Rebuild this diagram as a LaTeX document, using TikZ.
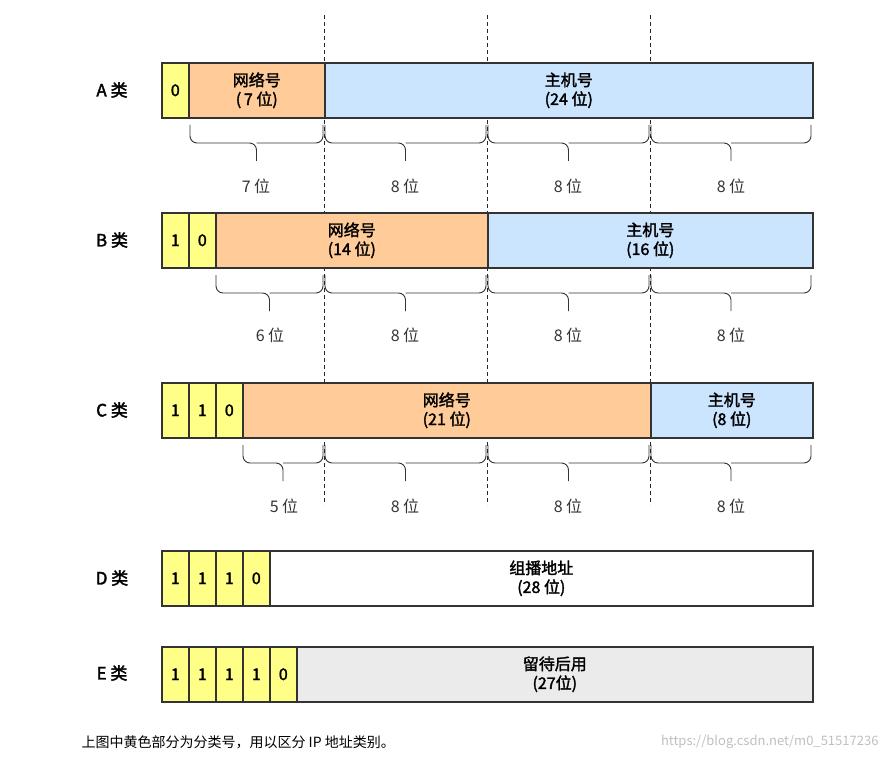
\documentclass[tikz,border=0pt]{standalone}
\usepackage{fontspec}
\setmainfont{Noto Sans CJK SC}[AutoFakeBold=2]
\begin{document}
\begin{tikzpicture}[x=1pt,y=-1pt,
  cell/.style={draw=black!80,line width=1.6pt,inner sep=0pt,anchor=north west,font=\bfseries\fontsize{16}{19}\selectfont,align=center},
  lab/.style={font=\bfseries\fontsize{17}{19}\selectfont},
  num/.style={font=\fontsize{16}{18}\selectfont,text=black!80},
  brc/.style={black!80,line width=0.9pt,rounded corners=7pt},
  dsh/.style={black!85,dash pattern=on 4pt off 3pt,line width=1pt}]
\useasboundingbox (0,0) rectangle (888,762);
\definecolor{org}{HTML}{FFCC99}\definecolor{blu}{HTML}{CCE5FF}\definecolor{ylw}{HTML}{FFFF88}\definecolor{gry}{HTML}{EBEBEB}
\tikzset{ylw/.style={cell,fill=ylw},org/.style={cell,fill=org},blu/.style={cell,fill=blu}}
\newcommand\mycell[6]{\node[#1,minimum width=#4-#3,minimum height=55] (#2) at (#3,#5) {#6};}
\newcommand\mybrace[3]{\draw[brc] (#1,#3) -- (#1,#3+18) -- ({(#1+#2)/2},#3+18) -- ({(#1+#2)/2},#3+36);
  \draw[brc] ({(#1+#2)/2},#3+18) -- (#2,#3+18) -- (#2,#3);}
% dashed lines
\draw[dsh] (324,15) coordinate (d1) -- (324,505) coordinate (d1b);
\draw[dsh] (487,15) coordinate (d2) -- (487,505) coordinate (d2b);
\draw[dsh] (650,15) coordinate (d3) -- (650,505) coordinate (d3b);
% A
\node[lab] (la) at (112,90) {A 类};
\mycell{ylw}{a0}{161}{188}{62}{0}
\mycell{org}{an}{188}{324}{62}{网络号\\(\,7 位)}
\mycell{blu}{ah}{324}{812}{62}{主机号\\(24 位)}
\mybrace{190}{323}{125}\mybrace{325}{486}{125}\mybrace{488}{649}{125}\mybrace{651}{811}{125}
\node[num] (a1) at (256,186) {7 位};\node[num] (a2) at (405,186) {8 位};
\node[num] (a3) at (568,186) {8 位};\node[num] (a4) at (731,186) {8 位};
% B
\node[lab] (lb) at (112,240) {B 类};
\mycell{ylw}{b0}{161}{188}{212}{1}\mycell{ylw}{b1}{188}{215}{212}{0}
\mycell{org}{bn}{215}{487}{212}{网络号\\(14 位)}
\mycell{blu}{bh}{487}{812}{212}{主机号\\(16 位)}
\mybrace{216}{323}{275}\mybrace{325}{486}{275}\mybrace{488}{649}{275}\mybrace{651}{811}{275}
\node[num] (b1l) at (270,335) {6 位};\node[num] (b2l) at (405,335) {8 位};
\node[num] (b3l) at (568,335) {8 位};\node[num] (b4l) at (731,335) {8 位};
% C
\node[lab] (lc) at (112,410) {C 类};
\mycell{ylw}{c0}{161}{188}{382}{1}\mycell{ylw}{c1}{188}{215}{382}{1}\mycell{ylw}{c2}{215}{242}{382}{0}
\mycell{org}{cn}{242}{650}{382}{网络号\\(21 位)}
\mycell{blu}{ch}{650}{812}{382}{主机号\\(8 位)}
\mybrace{243}{323}{445}\mybrace{325}{486}{445}\mybrace{488}{649}{445}\mybrace{651}{811}{445}
\node[num] (c1l) at (284,506) {5 位};\node[num] (c2l) at (405,506) {8 位};
\node[num] (c3l) at (568,506) {8 位};\node[num] (c4l) at (731,506) {8 位};
% D
\node[lab] (ld) at (112,578) {D 类};
\mycell{ylw}{d0}{161}{188}{550}{1}\mycell{ylw}{d1c}{188}{215}{550}{1}\mycell{ylw}{d2c}{215}{242}{550}{1}\mycell{ylw}{d3c}{242}{269}{550}{0}
\mycell{cell,fill=white}{dn}{269}{812}{550}{组播地址\\(28 位)}
% E
\node[lab] (le) at (112,673) {E 类};
\mycell{ylw}{e0}{161}{188}{646}{1}\mycell{ylw}{e1}{188}{215}{646}{1}\mycell{ylw}{e2}{215}{242}{646}{1}\mycell{ylw}{e3}{242}{269}{646}{1}\mycell{ylw}{e4}{269}{296}{646}{0}
\mycell{cell,fill=gry}{en}{296}{812}{646}{留待后用\\(27位)}
% caption
\node[anchor=west,font=\fontsize{14}{16}\selectfont] (cap) at (78,742) {上图中黄色部分为分类号，用以区分 IP 地址类别。};
\node[anchor=east,font=\fontsize{13}{15}\selectfont,text=black!25] (wm) at (882,742) {https://blog.csdn.net/m0\_51517236};
\end{tikzpicture}
\end{document}
